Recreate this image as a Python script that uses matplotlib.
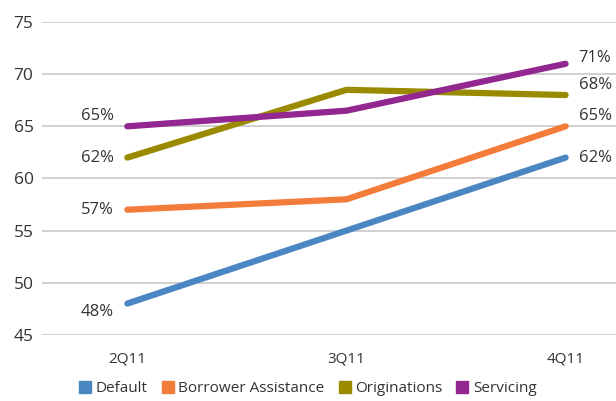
import matplotlib
matplotlib.use('Agg')
import matplotlib.pyplot as plt
from matplotlib.lines import Line2D

plt.rcParams['font.family'] = ['Open Sans', 'DejaVu Sans']

quarters = ['2Q11', '3Q11', '4Q11']
default = [48, 55, 62]
borrower = [57, 58, 65]
originations = [62, 68.5, 68]
servicing = [65, 66.5, 71]

names = ['Default', 'Borrower Assistance', 'Originations', 'Servicing']
colors = ['#4a87c2', '#f47c3a', '#9a8a00', '#92278f']
series = [default, borrower, originations, servicing]

# label y positions (left end, right end)
left_y = [47.2, 57, 62, 66]
right_y = [62, 66, 69, 71.6]

fig = plt.figure(figsize=(6.16, 4.01), dpi=100)
ax = fig.add_axes([0.068, 0.165, 0.932, 0.78])

x = range(len(quarters))
for s, c in zip(series, colors):
    ax.plot(x, s, color=c, lw=4.5, solid_capstyle='round', zorder=3)

for s, ly, ry in zip(series, left_y, right_y):
    ax.text(-0.06, ly, f'{s[0]:.0f}%', ha='right', va='center', fontsize=12, color='#333333')
    ax.text(2.06, ry, f'{s[-1]:.0f}%', ha='left', va='center', fontsize=12, color='#333333')

ax.set_ylim(45, 75)
ax.set_yticks(range(45, 80, 5))
ax.set_xlim(-0.39, 2.23)
ax.set_xticks(list(x))
ax.set_xticklabels(quarters)
ax.grid(axis='y', color='#c8c8c8', lw=1.2)
ax.set_axisbelow(True)
for sp in ax.spines.values():
    sp.set_visible(False)
ax.tick_params(axis='both', length=0, colors='#333333')
ax.tick_params(axis='y', labelsize=12.5, pad=6)
ax.tick_params(axis='x', labelsize=11, pad=12)

handles = [Line2D([], [], marker='s', linestyle='none', markersize=9, color=c) for c in colors]
fig.legend(handles, names, loc='lower center', bbox_to_anchor=(0.5, -0.022), ncol=4,
           frameon=False, fontsize=11, handlelength=0.8, handletextpad=0.3,
           columnspacing=0.9, labelcolor='#333333')

fig.savefig('out.png', dpi=100)
